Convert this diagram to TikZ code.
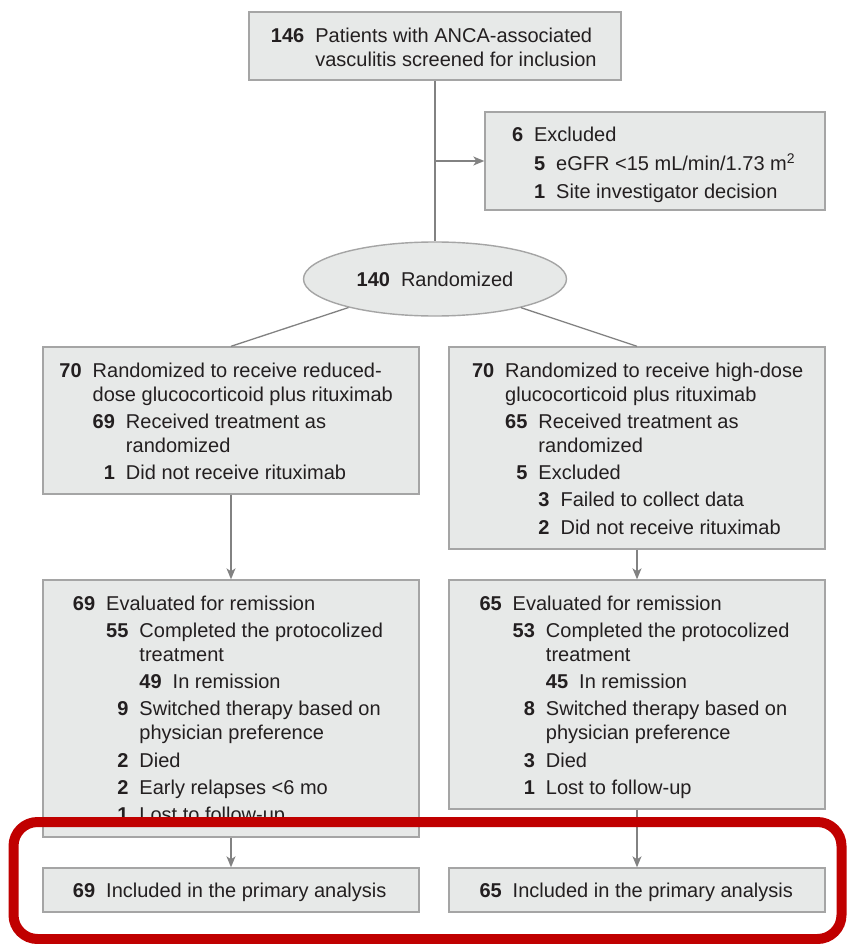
\documentclass[tikz,border=0pt]{standalone}
\usepackage{fontspec}
\setmainfont{Liberation Sans}
\usetikzlibrary{arrows.meta,shapes.geometric}
\definecolor{boxfill}{RGB}{231,233,232}
\definecolor{boxline}{RGB}{165,165,165}
\definecolor{conn}{RGB}{130,130,130}
\definecolor{txt}{RGB}{35,31,32}
\definecolor{hilite}{RGB}{192,0,0}
% box content: width, height, top space, lines
\newcommand\bx[4]{\parbox[c][#2pt][t]{#1pt}{\fontsize{20}{24}\selectfont\parindent0pt\parskip0pt\color{txt}\vspace*{#3pt}#4}}
% item: indent, number width, number, text
\newcommand\itm[4]{\strut\hspace*{#1pt}\makebox[#2pt][r]{\bfseries #3}\hspace*{11pt}#4\par}
% continuation line: indent, text
\newcommand\cnt[2]{\strut\hspace*{#1pt}#2\par}
\newcommand\gp{\vspace{3.3pt}}
\tikzset{
  flowbox/.style={draw=boxline, fill=boxfill, line width=1.4pt, inner sep=0pt},
  link/.style={draw=conn, line width=1.3pt},
  arr/.style={link, -{Stealth[length=11pt, width=9pt, inset=3pt]}},
}
\begin{document}
\begin{tikzpicture}[x=1pt, y=-1pt, font=\fontsize{20}{24}\selectfont]
\fill[white] (0,0) rectangle (847,944);
\useasboundingbox (0,0) rectangle (847,944);

\node[flowbox] (top) at (435,46) {\bx{372}{68}{14.2}{%
  \itm{22}{33.36}{146}{Patients with ANCA-associated}
  \cnt{66.36}{vasculitis screened for inclusion}}};

\node[flowbox] (excl) at (655,161) {\bx{340}{98}{13.2}{%
  \itm{27}{11.12}{6}{Excluded}\gp
  \itm{49.12}{11.12}{5}{eGFR <15 mL/min/1.73 m\textsuperscript{2}}\gp
  \itm{49.12}{11.12}{1}{Site investigator decision}}};

\node[flowbox, ellipse, minimum width=263pt, minimum height=74pt, text=txt] (ell) at (435,279)
  {\textbf{140}\hspace{11pt}Randomized};

\node[flowbox] (L2) at (231,420.5) {\bx{376}{147}{13.2}{%
  \itm{16.5}{22.24}{70}{Randomized to receive reduced-}
  \cnt{49.74}{dose glucocorticoid plus rituximab}\gp
  \itm{49.74}{22.24}{69}{Received treatment as}
  \cnt{82.98}{randomized}\gp
  \itm{49.74}{22.24}{1}{Did not receive rituximab}}};

\node[flowbox] (R2) at (637,448) {\bx{376}{202}{13.2}{%
  \itm{23}{22.24}{70}{Randomized to receive high-dose}
  \cnt{56.24}{glucocorticoid plus rituximab}\gp
  \itm{56.24}{22.24}{65}{Received treatment as}
  \cnt{89.48}{randomized}\gp
  \itm{56.24}{22.24}{5}{Excluded}\gp
  \itm{89.48}{11.12}{3}{Failed to collect data}\gp
  \itm{89.48}{11.12}{2}{Did not receive rituximab}}};

\node[flowbox] (L3) at (231,708.5) {\bx{376}{257}{13.2}{%
  \itm{30}{22.24}{69}{Evaluated for remission}\gp
  \itm{63.24}{22.24}{55}{Completed the protocolized}
  \cnt{96.48}{treatment}\gp
  \itm{96.48}{22.24}{49}{In remission}\gp
  \itm{63.24}{22.24}{9}{Switched therapy based on}
  \cnt{96.48}{physician preference}\gp
  \itm{63.24}{22.24}{2}{Died}\gp
  \itm{63.24}{22.24}{2}{Early relapses <6 mo}\gp
  \itm{63.24}{22.24}{1}{Lost to follow-up}}};

\node[flowbox] (R3) at (637,694.5) {\bx{376}{229}{13.2}{%
  \itm{30.5}{22.24}{65}{Evaluated for remission}\gp
  \itm{63.74}{22.24}{53}{Completed the protocolized}
  \cnt{96.98}{treatment}\gp
  \itm{96.98}{22.24}{45}{In remission}\gp
  \itm{63.74}{22.24}{8}{Switched therapy based on}
  \cnt{96.98}{physician preference}\gp
  \itm{63.74}{22.24}{3}{Died}\gp
  \itm{63.74}{22.24}{1}{Lost to follow-up}}};

\node[flowbox] (L4) at (231,890) {\bx{376}{44}{12.2}{%
  \itm{30}{22.24}{69}{Included in the primary analysis}}};

\node[flowbox] (R4) at (637,890) {\bx{376}{44}{12.2}{%
  \itm{30.5}{22.24}{65}{Included in the primary analysis}}};

% connectors
\draw[link] (top.south) -- (ell.north);
\draw[arr] (top.south |- excl.west) -- (excl.west);
\draw[link] (ell) -- (L2.north);
\draw[link] (ell) -- (R2.north);
\draw[arr] (L2.south) -- (L3.north);
\draw[arr] (R2.south) -- (R3.north);
\draw[arr] (L3.south) -- (L4.north);
\draw[arr] (R3.south) -- (R4.north);

% highlight frame
\draw[hilite, line width=10pt, rounded corners=24pt] (13.5,822) rectangle (841.5,939);
\end{tikzpicture}
\end{document}
